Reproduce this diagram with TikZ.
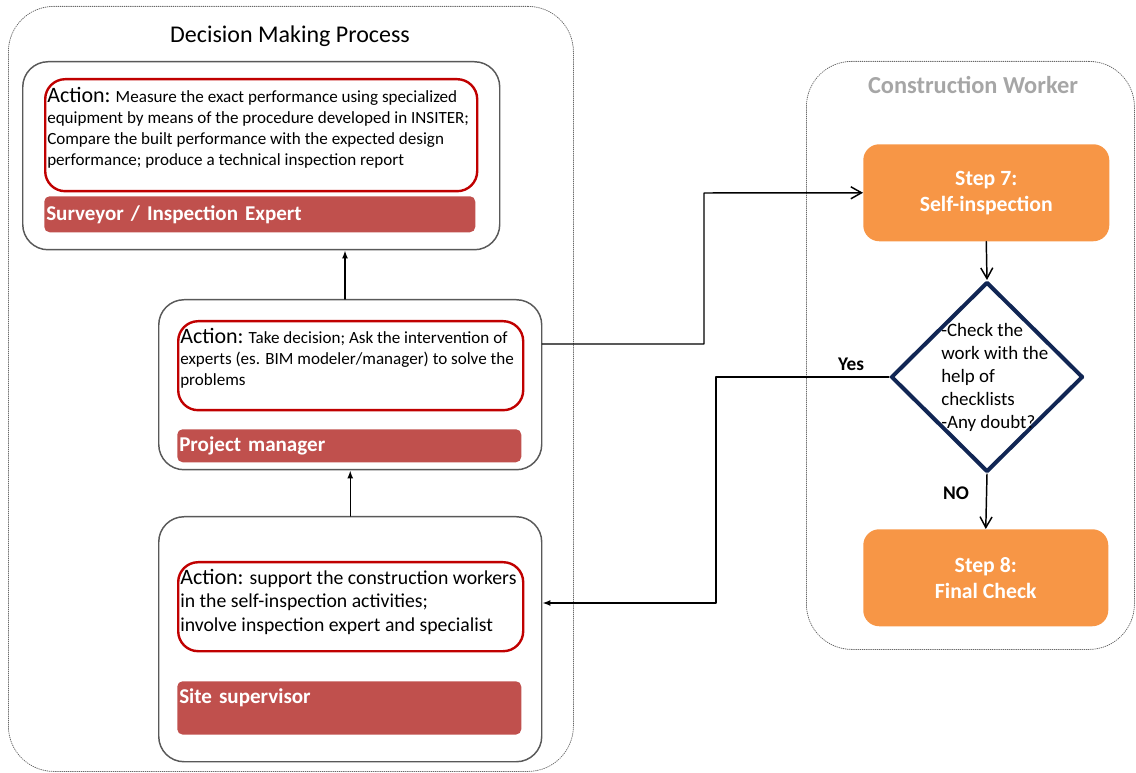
\documentclass[tikz,border=0pt]{standalone}
\usepackage{fontspec}
\setmainfont{Carlito}
\usetikzlibrary{arrows.meta,shapes.geometric}

\definecolor{actred}{RGB}{192,0,0}
\definecolor{barred}{RGB}{192,80,77}
\definecolor{steporange}{RGB}{247,150,70}
\definecolor{navy}{RGB}{17,38,84}
\definecolor{titlegray}{RGB}{166,166,166}
\newcommand{\actlbl}{{\fontsize{16.5}{16}\selectfont Action:}}

\begin{document}
\begin{tikzpicture}[x=0.75pt,y=-0.75pt,line cap=round,line join=round,
  openarr/.style={-{Straight Barb[length=8pt,width=9pt]},line width=1.1pt},
  fillarr/.style={-{Latex[length=6pt,width=4.5pt]},line width=1.1pt},
  frame/.style={draw=black!60,densely dotted,line width=0.6pt,rounded corners=34pt,anchor=north west,inner sep=0pt},
  rolebox/.style={draw=black!65,line width=1.1pt,rounded corners=19pt,anchor=north west,inner sep=0pt},
  actbox/.style={draw=actred,line width=1.8pt,rounded corners=15pt,anchor=north west,inner sep=0pt},
  acttext/.style={anchor=north west,inner sep=0pt,align=left,font=\fontsize{12.8}{15.75}\selectfont},
  rolebar/.style={fill=barred,rounded corners=4pt,anchor=north west,inner sep=1.5pt,align=left,text=white,font=\fontsize{15.8}{17}\selectfont\bfseries},
  stepbox/.style={fill=steporange,rounded corners=12pt,anchor=north west,inner sep=0pt,align=center,text=white,font=\fontsize{16.3}{19.5}\selectfont\bfseries},
  lbl/.style={font=\fontsize{14.5}{16}\selectfont\bfseries}]
\useasboundingbox (0,0) rectangle (1136,773);

% containers
\node[frame,minimum width=423.75pt,minimum height=573.75pt] (dmp) at (8,6) {};
\node[font=\fontsize{18}{21}\selectfont] (dmptitle) at (290,36) {Decision Making Process};
\node[frame,minimum width=246pt,minimum height=441pt] (cw) at (806,61) {};
\node[font=\fontsize{18.3}{21}\selectfont\bfseries,text=titlegray] (cwtitle) at (973,85) {Construction Worker};

% surveyor
\node[rolebox,minimum width=357.75pt,minimum height=141pt] (b1) at (22,61) {};
\node[actbox,minimum width=324pt,minimum height=84pt] (a1) at (44,78) {};
\node[acttext] (t1) at ([shift={(3,9)}]a1.north west) {\actlbl{} Measure the exact performance using specialized\\equipment by means of the procedure developed in INSITER;\\Compare the built performance with the expected design\\performance; produce a technical inspection report};
\node[rolebar,text width=320.25pt,minimum height=27pt] (r1) at (44,196) {Surveyor / Inspection Expert};

% project manager
\node[rolebox,minimum width=287.25pt,minimum height=127.5pt] (b2) at (158,299) {};
\node[actbox,minimum width=258.75pt,minimum height=66.75pt] (a2) at (177,320) {};
\node[acttext] (t2) at ([shift={(3,8)}]a2.north west) {\actlbl{} Take decision; Ask the intervention of\\experts (es. BIM modeler/manager) to solve the\\problems};
\node[rolebar,text width=255pt,minimum height=24.75pt] (r2) at (177,429) {Project manager};

% site supervisor
\node[rolebox,minimum width=287.25pt,minimum height=183.75pt] (b3) at (158,516) {};
\node[actbox,minimum width=258.75pt,minimum height=66.75pt] (a3) at (177,561) {};
\node[acttext,font=\fontsize{14.8}{17.6}\selectfont] (t3) at ([shift={(3,8)}]a3.north west) {\actlbl{} support the construction workers\\in the self-inspection activities;\\involve inspection expert and specialist};
\node[rolebar,text width=255pt,text height=15pt,text depth=22pt] (r3) at (177,681) {Site supervisor};

% construction worker
\node[stepbox,minimum width=184.5pt,minimum height=72.75pt] (s7) at (863,144) {Step 7:\\Self-inspection};
\node[diamond,draw=navy,line width=3pt,minimum width=144pt,minimum height=142.5pt,inner sep=0pt] (dm) at (987,377) {};
\node[anchor=west,align=left,inner sep=0pt,font=\fontsize{14.2}{17.25}\selectfont] (dmtxt) at (941,377) {-Check the\\work with the\\help of\\checklists\\-Any doubt?};
\node[stepbox,minimum width=183.75pt,minimum height=72.75pt] (s8) at (863,529) {Step 8:\\Final Check};

% connectors
\draw[fillarr] (b2.north -| 345,0) -- (b1.south -| 345,0);
\draw[fillarr] (b3.north) -- (b2.south);
\draw[openarr] (b2.east |- 0,344) -| (704,193) -- (s7.west);
\draw[openarr] (s7.south) -- (dm.north);
\draw[openarr] (dm.south) -- (s8.north);
\draw[fillarr] (dm.west) -| (716,603) -- (b3.east |- 0,603);
\node[lbl] (yes) at (851,364) {Yes};
\node[lbl] (no) at (956,493) {NO};
\end{tikzpicture}
\end{document}
